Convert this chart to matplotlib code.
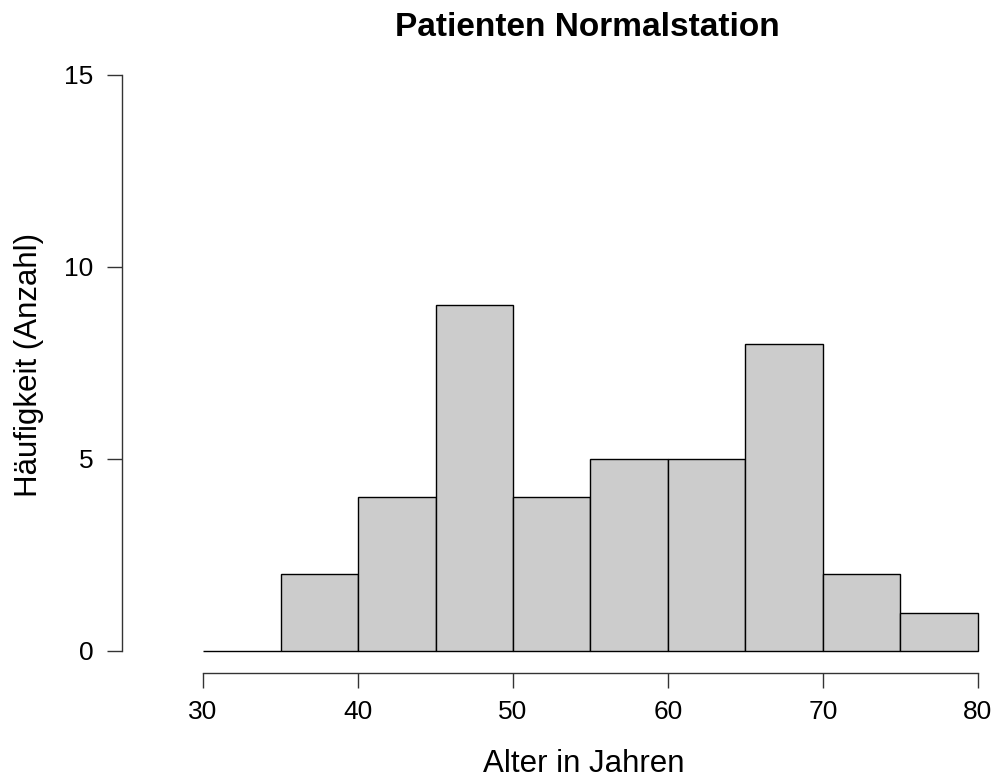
"""Histogram of patient ages on the general ward, drawn in base-R style."""

import matplotlib as mpl
import matplotlib.pyplot as plt
import numpy as np

mpl.rcParams.update({
    "font.family": ["Liberation Sans", "DejaVu Sans"],
})

BIN_EDGES = [30, 35, 40, 45, 50, 55, 60, 65, 70, 75, 80]
COUNTS = [0, 2, 4, 9, 4, 5, 5, 8, 2, 1]
X_TICKS = [30, 40, 50, 60, 70, 80]
Y_TICKS = [0, 5, 10, 15]

W, H = 995, 782
fig = plt.figure(figsize=(W / 100, H / 100), dpi=100)

# plot region in pixels (R-like, axis lines sit on the region border)
left_px, right_px, bottom_px, top_px = 122, 1042, 673, 52
ax = fig.add_axes([left_px / W, 1 - bottom_px / H,
                   (right_px - left_px) / W, (bottom_px - top_px) / H])

# data -> pixel mapping: x 30..80 -> 203..978, y 0..15 -> 651..75
xpu = (978 - 203) / 50
ypu = (651 - 75) / 15
ax.set_xlim(30 - (203 - left_px) / xpu, 80 + (right_px - 978) / xpu)
ax.set_ylim(-(bottom_px - 651) / ypu, 15 + (75 - top_px) / ypu)

edges = np.array(BIN_EDGES)
ax.bar(edges[:-1], COUNTS, width=np.diff(edges), align="edge",
       color="#cccccc", edgecolor="black", linewidth=1.0, clip_on=False)

for side in ("top", "right"):
    ax.spines[side].set_visible(False)
ax.spines["left"].set_bounds(0, 15)
ax.spines["bottom"].set_bounds(30, 80)
for side in ("left", "bottom"):
    ax.spines[side].set_linewidth(1.0)
    ax.spines[side].set_color("#333333")

ax.set_xticks(X_TICKS)
ax.set_yticks(Y_TICKS)
ax.tick_params(axis="both", length=10.5, width=1.0, color="#333333",
               labelsize=19)
ax.tick_params(axis="x", pad=9)
ax.tick_params(axis="y", pad=10)
ax.patch.set_alpha(0)

fig.text(587 / W, 1 - 28 / H, "Patienten Normalstation", ha="center",
         va="center", fontsize=24, fontweight="bold")
fig.text(584 / W, 1 - 764 / H, "Alter in Jahren", ha="center",
         va="center", fontsize=22.5)
fig.text(29 / W, 1 - 365 / H, "Häufigkeit (Anzahl)", ha="center",
         va="center", rotation=90, fontsize=22.5)

fig.savefig("out.png", dpi=100)
